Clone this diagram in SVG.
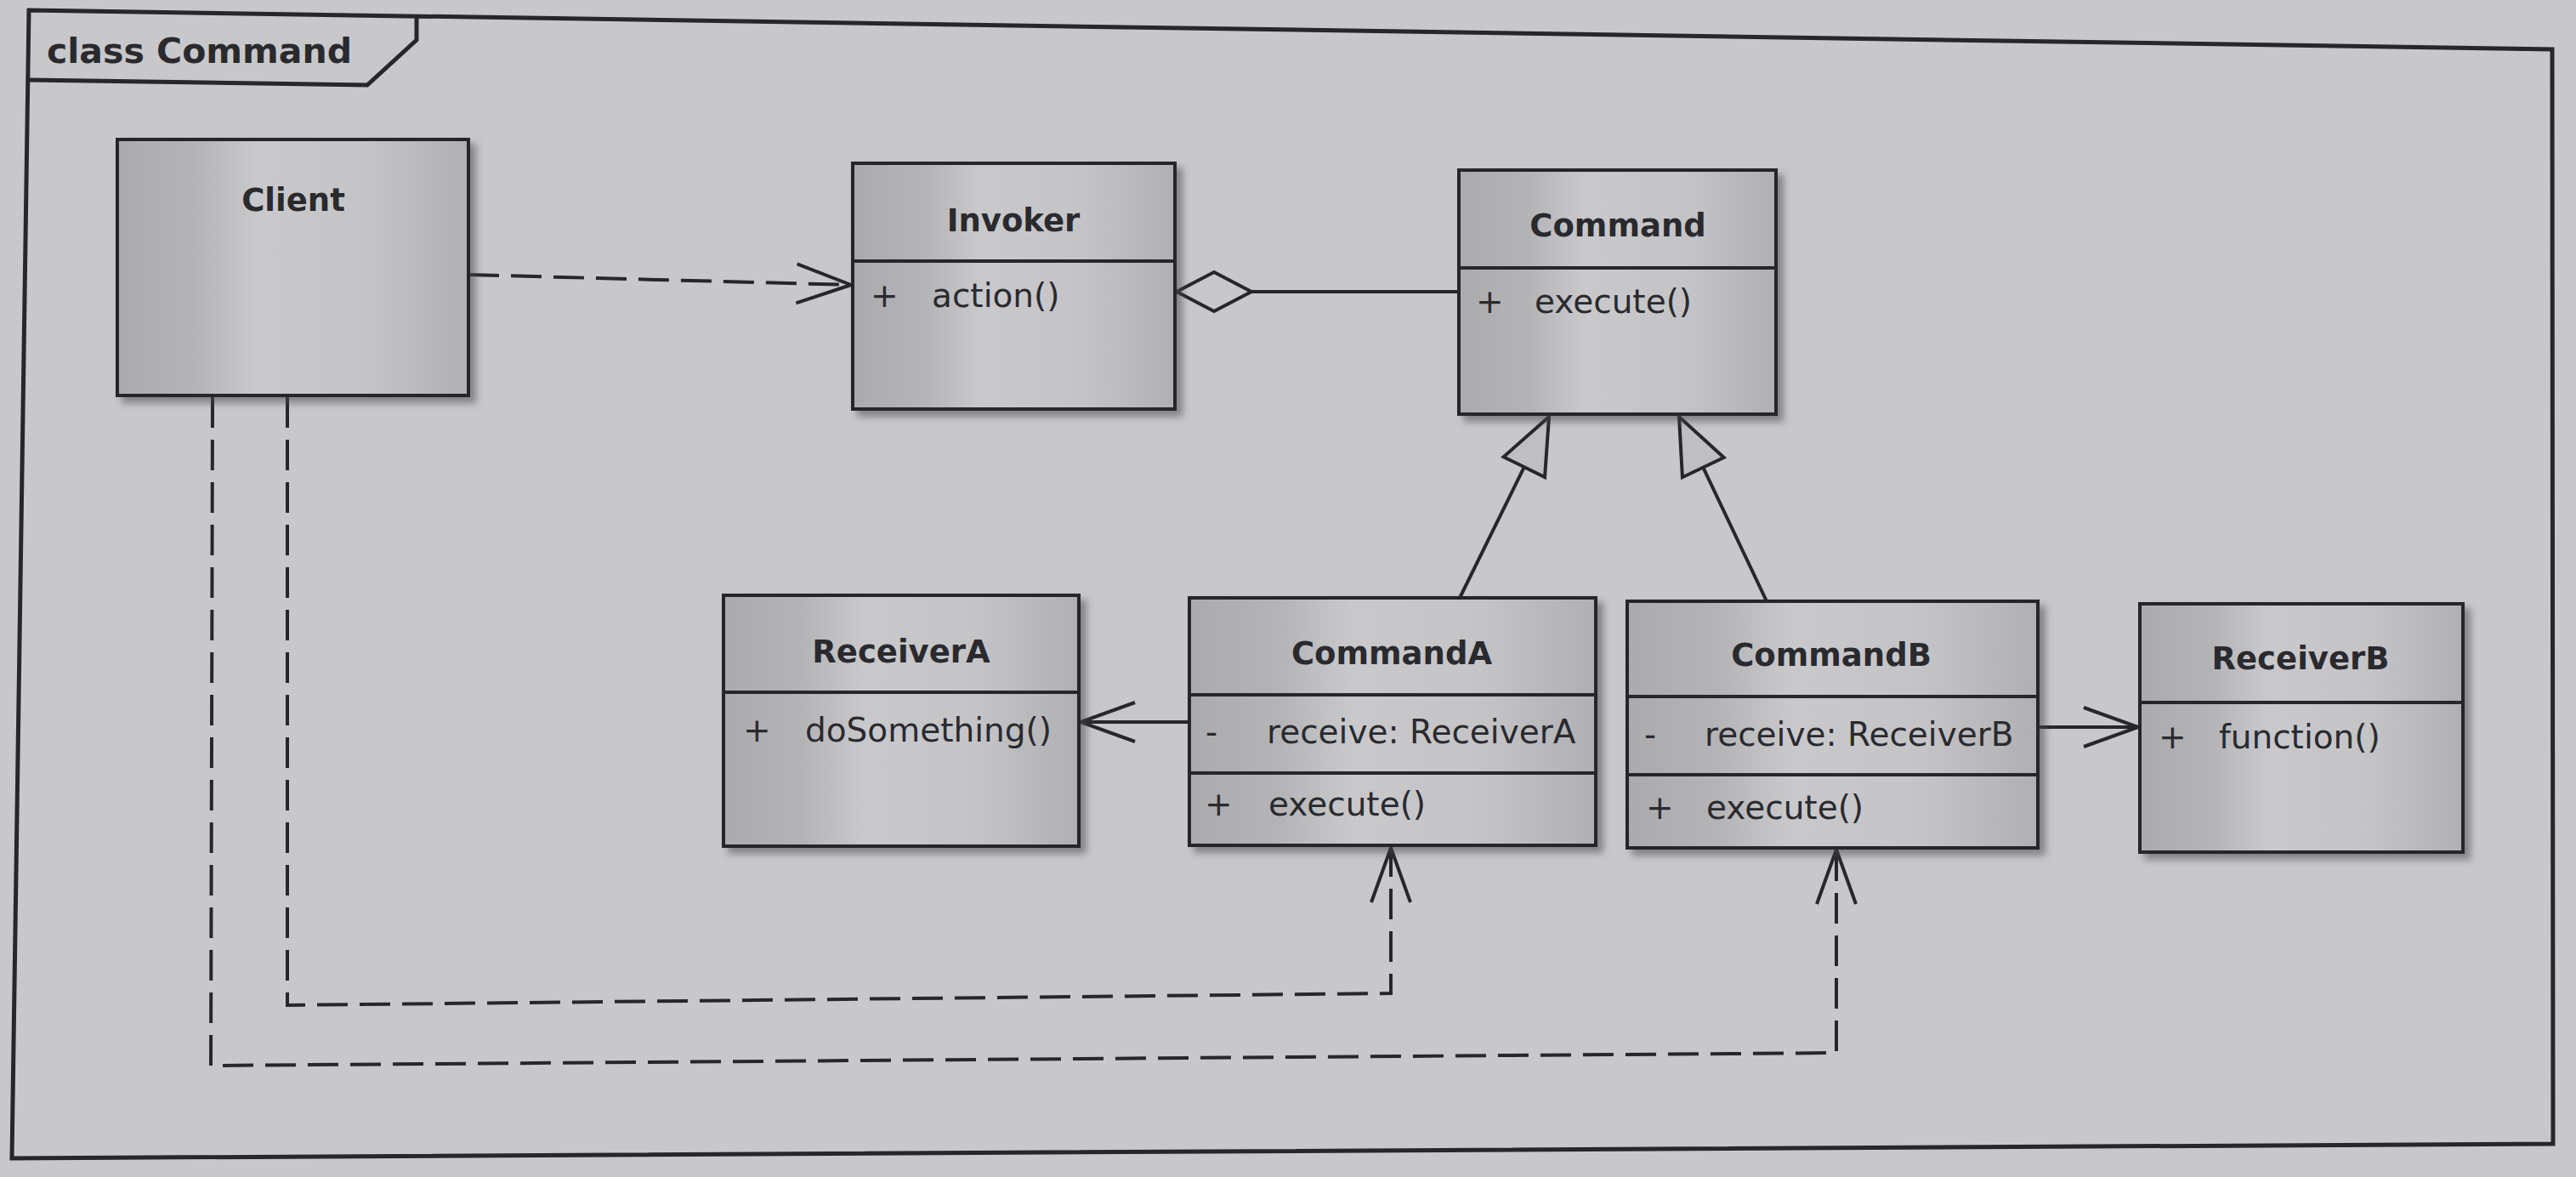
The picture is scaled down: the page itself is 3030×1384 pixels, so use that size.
<svg xmlns="http://www.w3.org/2000/svg" width="3030" height="1384" viewBox="0 0 3030 1384">
<style>
  .bg { fill: #c8c8cb; }
  .frame { fill: none; stroke: #26262c; stroke-width: 5; stroke-linejoin: miter; }
  .box { fill: url(#boxfill); stroke: #26262c; stroke-width: 4; filter: url(#shadow); }
  .div { stroke: #26262c; stroke-width: 4; }
  .title { font-family: "DejaVu Sans", "Liberation Sans", sans-serif; font-weight: bold; font-size: 37px; fill: #2a2a2e; text-anchor: middle; }
  .member { font-family: "DejaVu Sans", "Liberation Sans", sans-serif; font-size: 39px; fill: #2a2a2e; }
  .frametitle { font-family: "DejaVu Sans", "Liberation Sans", sans-serif; font-weight: bold; font-size: 41px; fill: #2a2a2e; }
  .line { fill: none; stroke: #26262c; stroke-width: 4; }
  .dash { fill: none; stroke: #26262c; stroke-width: 4; stroke-dasharray: 36 14; }
</style>
<defs>
  <linearGradient id="boxfill" x1="0" y1="0" x2="1" y2="0">
    <stop offset="0" stop-color="#abababae"/>
    <stop offset="0" stop-color="#ababae"/>
    <stop offset="0.22" stop-color="#b4b4b7"/>
    <stop offset="0.4" stop-color="#c9c9cc"/>
    <stop offset="0.72" stop-color="#c4c4c7"/>
    <stop offset="1" stop-color="#b0b0b3"/>
  </linearGradient>
  <filter id="shadow" x="-5%" y="-5%" width="115%" height="115%">
    <feDropShadow dx="7" dy="7" stdDeviation="4" flood-color="#4a4a50" flood-opacity="0.55"/>
  </filter>
  <marker id="open" markerUnits="userSpaceOnUse" viewBox="-72 -32 82 64" markerWidth="82" markerHeight="64" refX="0" refY="0" orient="auto" overflow="visible">
    <path d="M-64,-23 L0,0 L-64,23" fill="none" stroke="#26262c" stroke-width="4" stroke-dasharray="none"/>
  </marker>
  <marker id="tri" markerUnits="userSpaceOnUse" viewBox="-76 -34 86 68" markerWidth="86" markerHeight="68" refX="0" refY="0" orient="auto" overflow="visible">
    <path d="M0,0 L-66,-27 L-66,27 Z" fill="#bfbfc2" stroke="#26262c" stroke-width="4" stroke-dasharray="none"/>
  </marker>
  <marker id="dia" markerUnits="userSpaceOnUse" viewBox="-96 -30 106 60" markerWidth="106" markerHeight="60" refX="0" refY="0" orient="auto" overflow="visible">
    <path d="M0,0 L-44,-23 L-88,0 L-44,23 Z" fill="#c8c8cb" stroke="#26262c" stroke-width="4" stroke-dasharray="none"/>
  </marker>
</defs>

<rect class="bg" x="0" y="0" width="3030" height="1384"/>

<g id="frame">
  <polygon class="frame" points="34,12 3002,58 3003,1345 14,1362"/>
  <polyline class="frame" points="490,20 490,47 432,100 34,94"/>
  <text class="frametitle" x="55" y="74">class Command</text>
</g>

<g id="connectors">
  <path class="dash" d="M551,323 L1001,335" marker-end="url(#open)"/>
  <path class="line" d="M1716,343 L1384,343" marker-end="url(#dia)"/>
  <path class="line" d="M1717,703 L1822,490" marker-end="url(#tri)"/>
  <path class="line" d="M2078,707 L1975,490" marker-end="url(#tri)"/>
  <path class="line" d="M1399,849 L1271,849" marker-end="url(#open)"/>
  <path class="line" d="M2397,855 L2515,855" marker-end="url(#open)"/>
  <path class="dash" d="M338,467 L338,1182 L1636,1168 L1636,997" marker-end="url(#open)"/>
  <path class="dash" d="M250,467 L248,1253 L2160,1238 L2160,999" marker-end="url(#open)"/>
</g>

<g id="Client">
  <rect class="box" x="138" y="164" width="413" height="301"/>
  <text class="title" x="345" y="248">Client</text>
</g>

<g id="Invoker">
  <rect class="box" x="1003" y="192" width="379" height="289"/>
  <line class="div" x1="1003" y1="307" x2="1382" y2="307"/>
  <text class="title" x="1192" y="272">Invoker</text>
  <text class="member" x="1024" y="361">+</text>
  <text class="member" x="1096" y="361">action()</text>
</g>

<g id="Command">
  <rect class="box" x="1716" y="200" width="373" height="287"/>
  <line class="div" x1="1716" y1="315" x2="2089" y2="315"/>
  <text class="title" x="1903" y="278">Command</text>
  <text class="member" x="1736" y="368">+</text>
  <text class="member" x="1805" y="368">execute()</text>
</g>

<g id="ReceiverA">
  <rect class="box" x="851" y="700" width="418" height="295"/>
  <line class="div" x1="851" y1="814" x2="1269" y2="814"/>
  <text class="title" x="1060" y="779">ReceiverA</text>
  <text class="member" x="874" y="872">+</text>
  <text class="member" x="947" y="872">doSomething()</text>
</g>

<g id="CommandA">
  <rect class="box" x="1399" y="703" width="478" height="291"/>
  <line class="div" x1="1399" y1="817" x2="1877" y2="817"/>
  <line class="div" x1="1399" y1="909" x2="1877" y2="909"/>
  <text class="title" x="1637" y="781">CommandA</text>
  <text class="member" x="1418" y="874">-</text>
  <text class="member" x="1490" y="874">receive: ReceiverA</text>
  <text class="member" x="1417" y="959">+</text>
  <text class="member" x="1492" y="959">execute()</text>
</g>

<g id="CommandB">
  <rect class="box" x="1914" y="707" width="483" height="290"/>
  <line class="div" x1="1914" y1="819" x2="2397" y2="819"/>
  <line class="div" x1="1914" y1="911" x2="2397" y2="911"/>
  <text class="title" x="2154" y="783">CommandB</text>
  <text class="member" x="1934" y="877">-</text>
  <text class="member" x="2005" y="877">receive: ReceiverB</text>
  <text class="member" x="1936" y="963">+</text>
  <text class="member" x="2007" y="963">execute()</text>
</g>

<g id="ReceiverB">
  <rect class="box" x="2517" y="710" width="380" height="292"/>
  <line class="div" x1="2517" y1="826" x2="2897" y2="826"/>
  <text class="title" x="2706" y="787">ReceiverB</text>
  <text class="member" x="2539" y="880">+</text>
  <text class="member" x="2610" y="880">function()</text>
</g>
</svg>
